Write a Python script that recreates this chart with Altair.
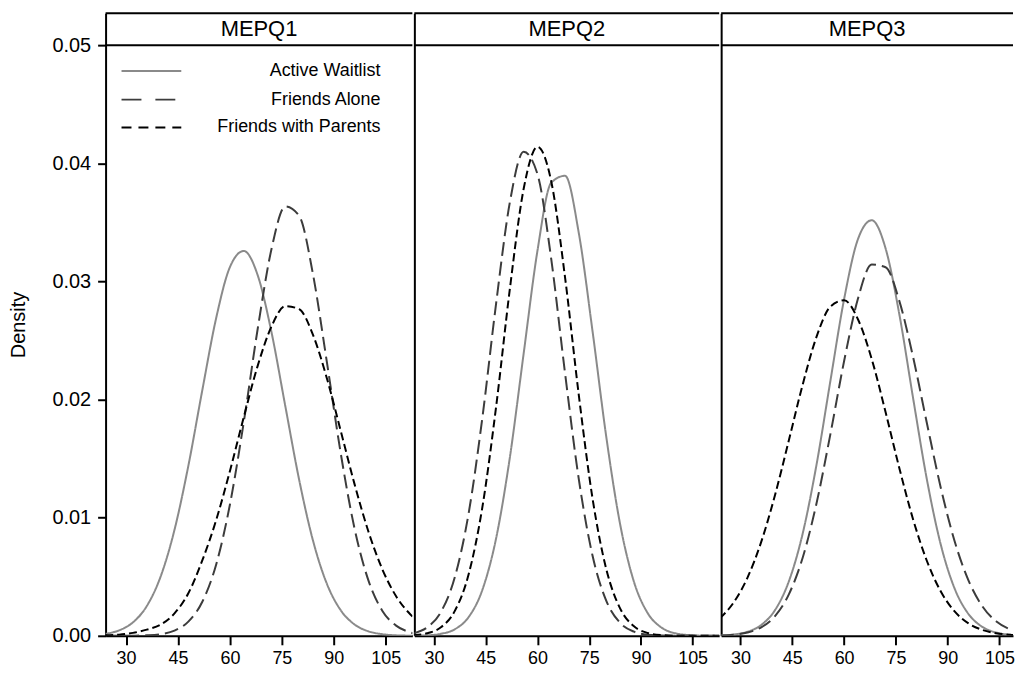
import altair as alt
import pandas as pd

# ---------------- data ----------------
panels = ["MEPQ1", "MEPQ2", "MEPQ3"]
series = ["Active Waitlist", "Friends Alone", "Friends with Parents"]
x_ticks = [30, 45, 60, 75, 90, 105]
y_ticks = [0.0, 0.01, 0.02, 0.03, 0.04, 0.05]

x_grid = [24, 28, 32, 36, 40, 44, 48, 52, 56, 60, 64, 68, 72, 76, 80, 84,
          88, 92, 96, 100, 104, 108, 112, 116]

# MEPQ1
mepq1_active = [0.00017, 0.00046, 0.00114, 0.00252, 0.00502, 0.00897, 0.01439, 0.02074,
                0.02685, 0.03121, 0.03258, 0.03055, 0.02572, 0.01945, 0.01321, 0.00806,
                0.00441, 0.00217, 0.00096, 0.00038, 0.00014, 0.00004, 0.00001, 0.0]
mepq1_friends = [0.0, 0.0, 0.00001, 0.00004, 0.00014, 0.00044, 0.00120, 0.00286,
                 0.00600, 0.01110, 0.01808, 0.02593, 0.03272, 0.03635, 0.03555, 0.03060,
                 0.02319, 0.01547, 0.00908, 0.00469, 0.00213, 0.00086, 0.00030, 0.00009]
mepq1_parents = [0.00004, 0.00010, 0.00025, 0.00052, 0.00095, 0.00190, 0.00360, 0.00636,
                 0.00976, 0.01394, 0.01850, 0.02283, 0.02618, 0.02791, 0.02765, 0.02547,
                 0.02181, 0.01736, 0.01284, 0.00883, 0.00565, 0.00335, 0.00185, 0.00095]
# MEPQ2
mepq2_active = [0.00001, 0.00004, 0.00017, 0.00055, 0.00157, 0.00387, 0.00824, 0.01511,
                0.02390, 0.03260, 0.03836, 0.03894, 0.03408, 0.02573, 0.01676, 0.00941,
                0.00456, 0.00191, 0.00069, 0.00021, 0.00006, 0.00001, 0.0, 0.0]
mepq2_friends = [0.00021, 0.00071, 0.00202, 0.00493, 0.01030, 0.01841, 0.02812, 0.03671,
                 0.04097, 0.03909, 0.03188, 0.02223, 0.01324, 0.00675, 0.00294, 0.00109,
                 0.00035, 0.00009, 0.00002, 0.0, 0.0, 0.0, 0.0, 0.0]
mepq2_parents = [0.00005, 0.00021, 0.00072, 0.00209, 0.00516, 0.01085, 0.01937, 0.02938,
                 0.03784, 0.04139, 0.03846, 0.03035, 0.02035, 0.01158, 0.00560, 0.00230,
                 0.00080, 0.00024, 0.00006, 0.00001, 0.0, 0.0, 0.0, 0.0]
# MEPQ3
mepq3_active = [0.00003, 0.00011, 0.00034, 0.00092, 0.00218, 0.00461, 0.00865, 0.01447,
                0.02153, 0.02850, 0.03357, 0.03518, 0.03280, 0.02720, 0.02007, 0.01318,
                0.00770, 0.00400, 0.00185, 0.00076, 0.00028, 0.00009, 0.00003, 0.00001]
mepq3_friends = [0.00003, 0.00009, 0.00028, 0.00072, 0.00167, 0.00351, 0.00661, 0.01120,
                 0.01703, 0.02326, 0.02853, 0.03143, 0.03120, 0.02833, 0.02356, 0.01795,
                 0.01252, 0.00800, 0.00469, 0.00251, 0.00123, 0.00056, 0.00023, 0.00009]
mepq3_parents = [0.00148, 0.00281, 0.00491, 0.00795, 0.01192, 0.01655, 0.02126, 0.02530,
                 0.02786, 0.02840, 0.02680, 0.02342, 0.01894, 0.01418, 0.00983, 0.00631,
                 0.00375, 0.00206, 0.00105, 0.00050, 0.00022, 0.00009, 0.00003, 0.00001]

curves = {
    "MEPQ1": [mepq1_active, mepq1_friends, mepq1_parents],
    "MEPQ2": [mepq2_active, mepq2_friends, mepq2_parents],
    "MEPQ3": [mepq3_active, mepq3_friends, mepq3_parents],
}

# ---------------- styling ----------------
FONT = "Liberation Sans"
colors = ["#8a8a8a", "#3c3c3c", "#000000"]
dashes_curve = [[1, 0], [14, 6], [8, 4]]
dashes_legend = [[1, 0], [20, 14], [10, 7]]
HEIGHT = 625
YMAX = 0.0527

widths = [308, 306, 293]
xdomains = [[24.1, 112.7], [24.3, 112.7], [24.4, 108.9]]


def make_panel(i):
    name = panels[i]
    w = widths[i]
    rows = []
    for s, vals in zip(series, curves[name]):
        for xv, yv in zip(x_grid, vals):
            rows.append({"x": xv, "y": yv, "series": s})
    df = pd.DataFrame(rows)

    if i == 0:
        yaxis = alt.Axis(values=y_ticks, format=".2f", grid=False, tickSize=8, tickWidth=2,
                         domainWidth=2, domainColor="black", tickColor="black",
                         labelColor="black", labelFontSize=20, labelPadding=7,
                         title="Density", titleFontSize=20, titleFontWeight="normal",
                         titleColor="black", titleX=-81, titleY=HEIGHT / 2,
                         titleAngle=270, titleBaseline="alphabetic", titleAlign="center")
    else:
        yaxis = alt.Axis(values=y_ticks, labels=False, ticks=False, grid=False, title=None,
                         domainWidth=2, domainColor="black")

    xaxis = alt.Axis(values=x_ticks, grid=False, tickSize=9, tickWidth=2, domainWidth=2,
                     domainColor="black", tickColor="black", labelColor="black",
                     labelFontSize=18, labelPadding=5, title=None)

    lines = alt.Chart(df).mark_line(clip=True, interpolate="monotone", strokeWidth=2).encode(
        x=alt.X("x:Q", scale=alt.Scale(domain=xdomains[i], nice=False, zero=False), axis=xaxis),
        y=alt.Y("y:Q", scale=alt.Scale(domain=[0, YMAX], nice=False), axis=yaxis),
        color=alt.Color("series:N", scale=alt.Scale(domain=series, range=colors), legend=None),
        strokeDash=alt.StrokeDash("series:N", scale=alt.Scale(domain=series, range=dashes_curve),
                                  legend=None),
    )

    one = pd.DataFrame({"panel": [name]})
    header = alt.Chart(one).mark_text(fontSize=22, font=FONT, color="black",
                                      baseline="middle", align="center").encode(
        x=alt.value(w / 2), y=alt.value(16), text="panel:N")
    top_rule = alt.Chart(one).mark_rule(color="black", strokeWidth=2).encode(
        x=alt.value(0), x2=alt.value(w), y=alt.value(0))
    strip_rule = alt.Chart(one).mark_rule(color="black", strokeWidth=2).encode(
        x=alt.value(0), x2=alt.value(w), y=alt.value(32))

    layers = [lines, top_rule, strip_rule, header]

    if i == 0:
        ys = [58, 86.7, 114.7]
        for s, c, d, yy in zip(series, colors, dashes_legend, ys):
            sd = pd.DataFrame({"series": [s]})
            layers.append(alt.Chart(sd).mark_rule(color=c, strokeWidth=2, strokeDash=d).encode(
                x=alt.value(16), x2=alt.value(76), y=alt.value(yy)))
            layers.append(alt.Chart(sd).mark_text(font=FONT, fontSize=18, color="black",
                                                  align="right", baseline="middle").encode(
                x=alt.value(276), y=alt.value(yy), text="series:N"))

    return alt.layer(*layers).properties(width=w, height=HEIGHT)


chart = alt.hconcat(make_panel(0), make_panel(1), make_panel(2), spacing=0).properties(
    padding={"left": 9, "top": 11, "right": 0, "bottom": 0}
).configure_view(stroke=None).configure_axis(labelFont=FONT, titleFont=FONT).configure_text(font=FONT)

chart.save("out.html", embed_options={"renderer": "svg", "actions": False})
